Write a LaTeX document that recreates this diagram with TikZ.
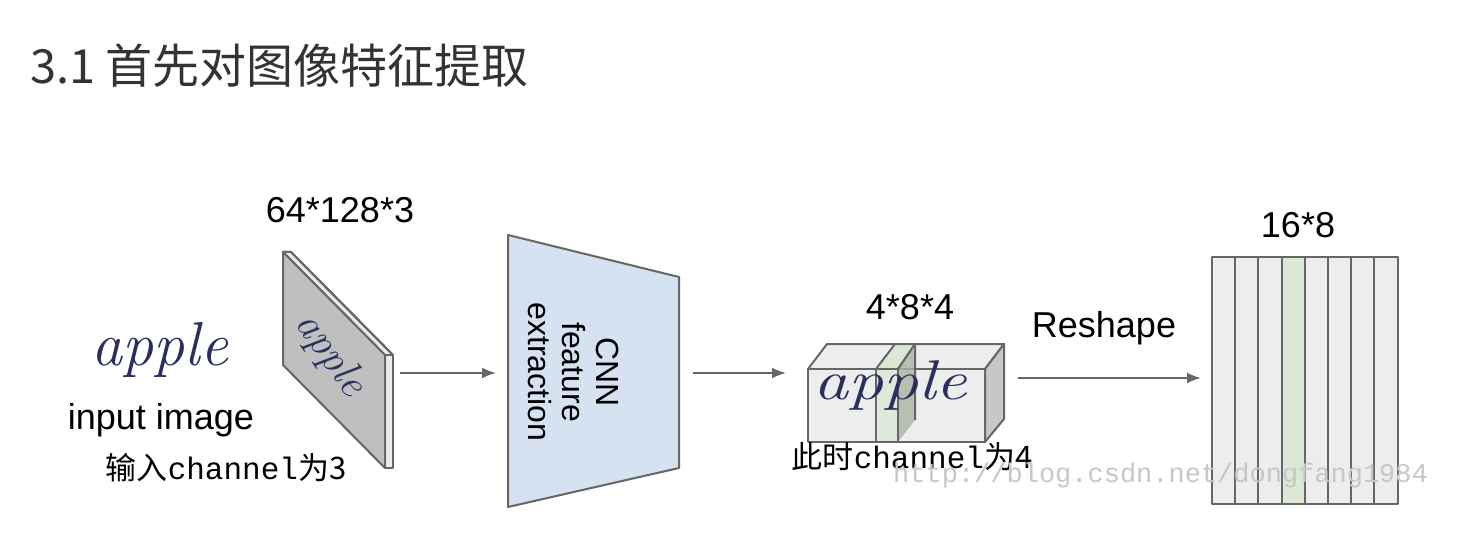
\documentclass[tikz,border=0pt]{standalone}
\usepackage{fontspec}
\usetikzlibrary{arrows.meta,calc}
\setmainfont{Liberation Sans}
\newfontfamily\cjk{Noto Sans CJK SC}
\newfontfamily\monol{Liberation Mono}
\definecolor{edge}{HTML}{666666}
\definecolor{ink}{HTML}{2B2F5E}
\definecolor{cnnblue}{HTML}{D5E2F1}
\definecolor{slice}{HTML}{DCE8D5}
\definecolor{slicedark}{HTML}{AAB59F}
\begin{document}
\begin{tikzpicture}[x=1pt,y=-1pt,
  lab/.style={font=\fontsize{36}{40}\selectfont,text=black,inner sep=0},
  zh/.style={font=\fontsize{31}{34}\selectfont,inner sep=0},
  hand/.style={font=\fontsize{62}{62}\selectfont,text=ink,inner sep=0},
  arr/.style={draw=edge,line width=2pt,-{Latex[length=14pt,width=11pt]}},
  face/.style={draw=edge,line width=2pt,line join=round}]
\useasboundingbox (0,0) rectangle (1484,540);
\fill[white] (0,0) rectangle (1484,540);
\node[anchor=west,inner sep=0,text=black!80,font=\cjk\fontsize{47}{50}\selectfont] (title) at (30,66) {3.1 首先对图像特征提取};
% input
\node[hand] (apple1) at (160,350) {\fontspec{Latin Modern Roman}\itshape apple};
\node[lab] (inp) at (161,420) {input image};
\node[zh] (zh1) at (226,468) {\cjk 输入{\monol channel}为3};
% plane
\coordinate (A) at (283,252); \coordinate (B) at (385,355);
\coordinate (C) at (385,468); \coordinate (D) at (283,365);
\fill[face,fill=white!92!black] (A) -- ++(8,0) -- ($(B)+(8,0)$) -- (B) -- cycle;
\draw[face,fill=white!92!black] (B) -- ++(8,0) -- ($(C)+(8,0)$) -- (C) -- cycle;
\draw[face,fill=black!25] (A) -- (B) -- (C) -- (D) -- cycle;
\draw[face] (A) -- ++(8,0) -- ($(B)+(8,0)$);
\node[hand,rotate=-55,font=\fontsize{42}{42}\selectfont] (apple2) at (330,355) {\fontspec{Latin Modern Roman}\itshape apple};
\node[lab] (dim1) at (340,210) {64*128*3};
% cnn
\draw[face,fill=cnnblue] (508,235) -- (679,277) -- (679,468) -- (508,507) -- cycle;
\node[lab,rotate=-90,align=center,font=\fontsize{32}{34}\selectfont] (cnn) at (574,372) {CNN\\feature\\extraction};
\coordinate (pl) at (400,373); \coordinate (tl) at (496,373);
\draw[arr] (pl) -- (tl);
\coordinate (tr) at (693,373); \coordinate (bl) at (786,373);
\draw[arr] (tr) -- (bl);
% box
\draw[face,fill=black!7] (808,369) -- (827,344) -- (1004,344) -- (985,369) -- cycle;
\draw[face,fill=black!22] (985,369) -- (1004,344) -- (1004,419) -- (985,442) -- cycle;
\draw[face,fill=black!7] (808,369) rectangle (985,442);
\draw[face,fill=slice] (876,369) -- (895,344) -- (915,344) -- (898,369) -- cycle;
\fill[slicedark,opacity=.8] (898,369) -- (915,344) -- (915,420) -- (898,442) -- cycle;
\draw[face] (898,369) -- (915,344) -- (915,420);
\draw[face,fill=slice,fill opacity=.8] (876,369) rectangle (898,442);
\node[hand,font=\fontsize{56}{56}\selectfont,xscale=1.25] (apple3) at (890,385) {\fontspec{Latin Modern Roman}\itshape apple};
\node[lab] (dim2) at (910,307) {4*8*4};
\node[zh] (zh2) at (912,457) {\cjk 此时{\monol channel}为4};
% reshape
\node[lab] (resh) at (1104,328) {Reshape};
\coordinate (bx) at (1018,378); \coordinate (gr) at (1201,378);
\draw[arr] (bx) -- (gr);
% grid
\foreach \i in {0,...,7}{
  \pgfmathsetmacro\xx{1212+\i*23.2}
  \ifnum\i=3 \def\fc{slice}\else\def\fc{black!7}\fi
  \draw[face,fill=\fc] (\xx,257) rectangle ++(23.2,247);
}
\node[lab] (dim3) at (1298,225) {16*8};
\node[anchor=west,inner sep=0,text=black!22,font=\monol\fontsize{27}{30}\selectfont] (wm) at (893,476) {http://blog.csdn.net/dongfang1984};
\end{tikzpicture}
\end{document}
